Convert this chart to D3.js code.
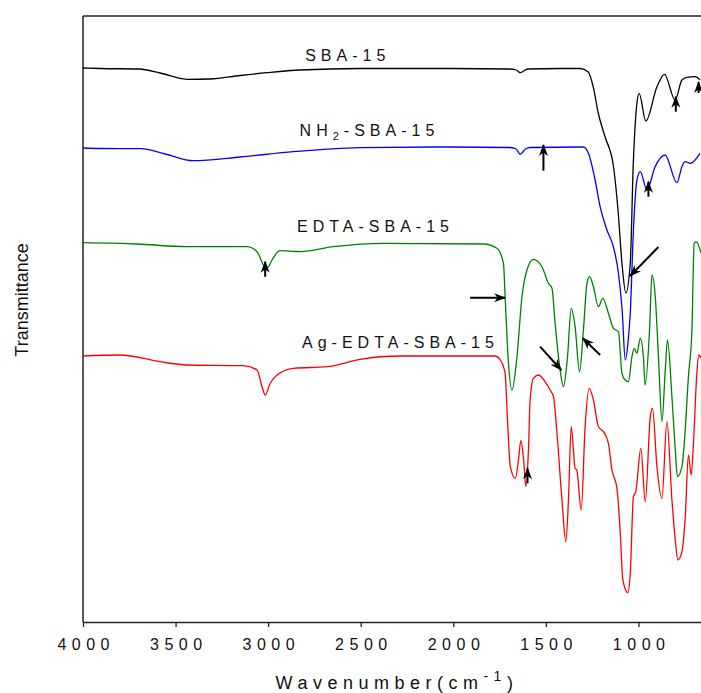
<!DOCTYPE html>
<html>
<head>
<meta charset="utf-8">
<script src="https://cdn.jsdelivr.net/npm/d3@7"></script>
<style>
  body { margin: 0; background: #fff; }
  text { font-family: "Liberation Sans", Arial, sans-serif; fill: #111; }
</style>
</head>
<body>
<div id="chart"></div>
<script>
// FTIR spectra, [wavenumber (cm-1), transmittance (a.u., offset)]
const sba15 = [
  [4000, 56.2], [3907, 56.15], [3696, 56.1], [3583, 55.7], [3439, 55.07], [3313, 55.1],
  [3151, 55.45], [3006, 55.73], [2827, 56.0], [2503, 56.15], [2017, 56.15], [1693, 56.1],
  [1660, 56.0], [1639, 55.73], [1615, 55.95], [1596, 56.1], [1423, 56.15], [1315, 56.15], [1271, 55.8],
  [1244, 54.3], [1217, 51.7], [1180, 49.3], [1136, 46.5], [1109, 41.7], [1089, 36.7],
  [1068, 33.7], [1044, 36.7], [1028, 46.5], [1008, 52.7], [996, 53.67], [960, 50.9],
  [900, 54.33], [859, 55.57], [802, 53.0], [765, 55.0], [738, 55.27], [694, 55.33], [667, 55.0]
];

const nh2Sba15 = [
  [4000, 48.2], [3907, 48.15], [3690, 48.13], [3556, 47.6], [3404, 46.93], [3150, 47.3],
  [2864, 47.83], [2503, 48.23], [2017, 48.3], [1693, 48.25], [1660, 48.1], [1639, 47.57], [1610, 48.1],
  [1585, 48.25], [1298, 48.3], [1270, 47.67], [1234, 45.0], [1207, 42.33], [1170, 40.0],
  [1135, 38.3], [1108, 35.7], [1088, 32.0], [1071, 27.0], [1055, 29.0], [1044, 31.7],
  [1027, 40.0], [1008, 45.0], [990, 45.83], [954, 44.0], [910, 46.33], [856, 47.5],
  [792, 44.73], [765, 46.33], [747, 46.83], [720, 46.67], [667, 47.67]
];

const edtaSba15 = [
  [4000, 38.73], [3708, 38.6], [3438, 38.33], [3114, 38.33], [3060, 37.83], [3033, 36.8],
  [3016, 36.2], [3000, 36.3], [2979, 37.0], [2935, 37.93], [2827, 37.83], [2648, 38.33],
  [2377, 38.67], [1837, 38.6], [1764, 38.17], [1729, 36.67], [1720, 33.33], [1702, 26.67],
  [1683, 24.0], [1656, 27.33], [1629, 33.33], [1602, 36.0], [1567, 37.07], [1521, 36.33],
  [1486, 34.67], [1467, 34.17], [1450, 30.67], [1423, 26.0], [1405, 24.33], [1383, 27.33],
  [1363, 32.17], [1342, 30.33], [1318, 25.83], [1297, 30.0], [1278, 34.67], [1264, 35.33],
  [1243, 34.33], [1216, 32.33], [1192, 33.17], [1162, 31.67], [1135, 30.17], [1108, 29.83],
  [1089, 25.67], [1072, 25.0], [1054, 24.83], [1035, 27.33], [1023, 28.17], [1008, 27.67],
  [990, 29.17], [973, 27.33], [964, 24.5], [940, 30.0], [927, 35.5], [909, 33.33],
  [891, 27.0], [873, 20.83], [855, 26.0], [843, 29.0], [819, 23.33], [801, 18.0],
  [789, 15.33], [765, 16.33], [751, 19.0], [730, 25.33], [711, 30.0], [699, 38.67],
  [688, 38.83], [661, 37.67]
];

const agEdtaSba15 = [
  [4000, 27.4], [3799, 27.5], [3583, 26.83], [3438, 26.5], [3133, 26.43], [3060, 26.0],
  [3033, 24.33], [3016, 23.5], [2989, 24.67], [2952, 25.5], [2863, 26.17], [2682, 26.33],
  [2503, 27.07], [2287, 27.4], [1774, 27.4], [1746, 27.0], [1720, 25.67], [1708, 21.3],
  [1692, 16.33], [1665, 15.17], [1648, 17.0], [1635, 18.93], [1620, 17.0], [1608, 14.33],
  [1594, 18.0], [1585, 23.0], [1567, 25.17], [1540, 25.5], [1504, 24.83], [1477, 24.0],
  [1459, 23.33], [1440, 19.7], [1413, 13.0], [1392, 8.83], [1378, 13.0], [1363, 20.33],
  [1342, 16.17], [1333, 16.0], [1309, 12.0], [1288, 20.33], [1266, 24.17], [1243, 23.0],
  [1216, 20.33], [1189, 19.83], [1162, 18.67], [1143, 16.0], [1116, 14.17], [1098, 9.67],
  [1084, 5.0], [1057, 3.73], [1044, 5.67], [1027, 13.33], [1014, 13.83], [987, 18.17],
  [963, 12.83], [936, 21.33], [924, 22.17], [900, 16.33], [873, 13.17], [846, 20.83],
  [819, 13.0], [801, 9.0], [787, 7.0], [765, 7.83], [747, 11.33], [730, 17.5],
  [715, 15.5], [702, 19.0], [685, 25.5], [674, 27.5], [661, 27.2]
];

const seriesNames = ["SBA-15", "NH2-SBA-15", "EDTA-SBA-15", "Ag-EDTA-SBA-15"];
const seriesColors = ["#000000", "#0000ff", "#008000", "#ff0000"];
// label anchor [wavenumber, value] for each series
const labelAt = [[2800, 56.9], [2830, 49.4], [2844, 39.77], [2817, 28.23]];

const waveTicks = [4000, 3500, 3000, 2500, 2000, 1500, 1000];

// annotation arrows: [tailW, tailV, headW, headV]
const arrows = [
  [798, 51.83, 798, 53.33],
  [675, 53.7, 675, 54.8],
  [1513, 45.93, 1513, 48.5],
  [946, 43.33, 946, 44.83],
  [892, 38.3, 1045, 35.4],
  [3016, 35.33, 3016, 36.83],
  [1909, 33.23, 1720, 33.23],
  [1531, 28.33, 1417, 26.0],
  [1207, 27.5, 1300, 29.17],
  [1599, 14.67, 1599, 16.17]
];

const width = 701, height = 693;

const x = d3.scaleLinear().domain([4000, 662]).range([83, 701]);
const y = d3.scaleLinear().domain([0.8, 61.4]).range([622, 16]);

const svg = d3.select('#chart')
  .append('svg')
  .attr('width', width)
  .attr('height', height);

svg.append('defs')
  .append('marker')
  .attr('id', 'head')
  .attr('viewBox', '0 -5 12 10')
  .attr('refX', 11)
  .attr('refY', 0)
  .attr('markerUnits', 'userSpaceOnUse')
  .attr('markerWidth', 12)
  .attr('markerHeight', 10)
  .attr('orient', 'auto')
  .append('path')
  .attr('d', 'M0,-4.5L12,0L0,4.5L3.5,0Z')
  .attr('fill', '#000');

// frame: left axis and top border
svg.append('line')
  .attr('x1', x(4000)).attr('x2', x(4000))
  .attr('y1', y.range()[1]).attr('y2', y.range()[0])
  .attr('stroke', '#222').attr('stroke-width', 1.5);
svg.append('line')
  .attr('x1', x(4000)).attr('x2', width)
  .attr('y1', y.range()[1]).attr('y2', y.range()[1])
  .attr('stroke', '#222').attr('stroke-width', 1.3);

const xAxis = svg.append('g')
  .attr('transform', 'translate(0,' + y.range()[0] + ')')
  .call(d3.axisBottom(x).tickValues(waveTicks).tickFormat(d3.format('d'))
    .tickSize(5).tickPadding(12).tickSizeOuter(0));
xAxis.select('.domain').attr('stroke', '#222').attr('stroke-width', 1.5);
xAxis.selectAll('.tick line').attr('stroke', '#222').attr('stroke-width', 1.3);
xAxis.selectAll('.tick text')
  .style('font-family', '"Liberation Sans", Arial, sans-serif')
  .style('font-size', '16px')
  .style('letter-spacing', '5.5px')
  .attr('dx', '2.7px')
  .attr('fill', '#111');

// axis titles
const xt = svg.append('text')
  .attr('x', 397)
  .attr('y', 689)
  .attr('text-anchor', 'middle')
  .style('font-size', '18px')
  .style('letter-spacing', '5.5px');
xt.append('tspan').text('Wavenumber(cm');
xt.append('tspan').attr('dy', -8).style('font-size', '14px').text('-1');
xt.append('tspan').attr('dy', 8).text(')');

svg.append('text')
  .attr('transform', 'translate(28,300) rotate(-90)')
  .attr('text-anchor', 'middle')
  .style('font-size', '18px')
  .text('Transmittance');

const line = d3.line()
  .x(d => x(d[0]))
  .y(d => y(d[1]))
  .curve(d3.curveMonotoneX);

[sba15, nh2Sba15, edtaSba15, agEdtaSba15].forEach((s, i) => {
  svg.append('path')
    .datum(s)
    .attr('d', line)
    .attr('fill', 'none')
    .attr('stroke', seriesColors[i])
    .attr('stroke-width', 1.3)
    .attr('stroke-linejoin', 'round');
});

// series labels
seriesNames.forEach((name, i) => {
  const t = svg.append('text')
    .attr('x', x(labelAt[i][0]))
    .attr('y', y(labelAt[i][1]))
    .style('font-size', '16px')
    .style('letter-spacing', '5px');
  if (name.startsWith('NH2')) {
    t.append('tspan').text('NH');
    t.append('tspan').attr('dy', 4).style('font-size', '11px').text('2');
    t.append('tspan').attr('dy', -4).text(name.slice(3));
  } else {
    t.text(name);
  }
});

svg.append('g')
  .selectAll('line')
  .data(arrows)
  .join('line')
  .attr('x1', d => x(d[0]))
  .attr('y1', d => y(d[1]))
  .attr('x2', d => x(d[2]))
  .attr('y2', d => y(d[3]))
  .attr('stroke', '#000')
  .attr('stroke-width', 2)
  .attr('marker-end', 'url(#head)');
</script>
</body>
</html>
